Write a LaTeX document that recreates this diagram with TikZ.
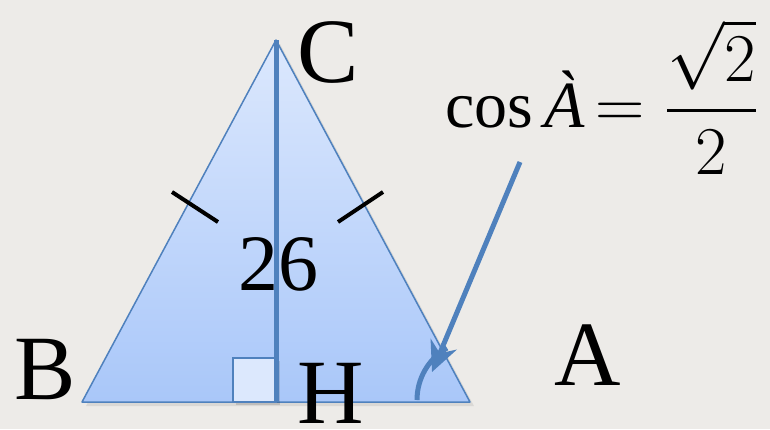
\documentclass[tikz,border=0pt]{standalone}
\usepackage{fontspec}
\setmainfont{Liberation Serif}
\usepackage{amsmath}
\usetikzlibrary{positioning,arrows.meta}

\definecolor{fondo}{HTML}{EDEBE8}
\definecolor{bordo}{HTML}{4F81BD}
\definecolor{alto}{HTML}{DCE8FD}
\definecolor{basso}{HTML}{A9C7F9}

\begin{document}
\begin{tikzpicture}[x=1pt,y=-1pt,
    lettera/.style={font=\fontsize{92}{92}\selectfont, inner sep=0pt},
    tacca/.style={draw=black, line width=4pt},
    blu/.style={draw=bordo, line width=5pt}]
				% Sfondo
				\fill[fondo] (0,0) rectangle (770,429);
				\useasboundingbox (0,0) rectangle (770,429);
				
				% Vertici del triangolo
				\coordinate (B) at (82,402);
				\coordinate (C) at (276,40);
				\coordinate (A) at (470,402);
				\coordinate (H) at (276,402);
				
				% Triangolo isoscele
				\fill[black, opacity=0.08] (86,406) -- (280,44) -- (474,406) -- cycle;
				\shade[top color=alto, bottom color=basso] (B) -- (C) -- (A) -- cycle;
				\draw[bordo, line width=1.5pt, line join=round] (B) -- (C) -- (A) -- cycle;
				
				% Quadratino dell'angolo retto
				\fill[black, opacity=0.12] (236,361) rectangle (280,405);
				\draw[bordo, line width=2pt, fill=alto] (233,358) rectangle (H);
				
				% Altezza CH
				\draw[blu] (C) -- (H);
				
				% Tacche sui lati uguali
				\draw[tacca] (172,192) -- (218,222);
				\draw[tacca] (338,222) -- (383,192);
				
				% Etichette
				\node[lettera] (lblC) at (328,52) {C};
				\node[lettera] (lblB) at (45,370) {B};
				\node[lettera] (lblA) at (588,355) {A};
				\node[lettera] (lblH) at (331,393) {H};
				\node[font=\fontsize{80}{80}\selectfont, inner sep=0pt] (lato) at (278,264) {26};
				
				% Formula del coseno
				\node[inner sep=0pt] (formula) at (602,97)
				{\scalebox{2.75}{\fontsize{24}{24}\selectfont $\cos$\,\textit{À}\,$= \dfrac{\sqrt{2}}{2}$}};
				
				% Arco dell'angolo A e freccia
				\draw[blu] (417,400) arc[start angle=180, end angle=240, radius=60];
				\coordinate (coda) at (520,162);
				\coordinate (punta) at (432,372);
				\draw[blu, -{Stealth[length=30pt, width=28pt]}] (coda) -- (punta);
			\end{tikzpicture}
\end{document}
